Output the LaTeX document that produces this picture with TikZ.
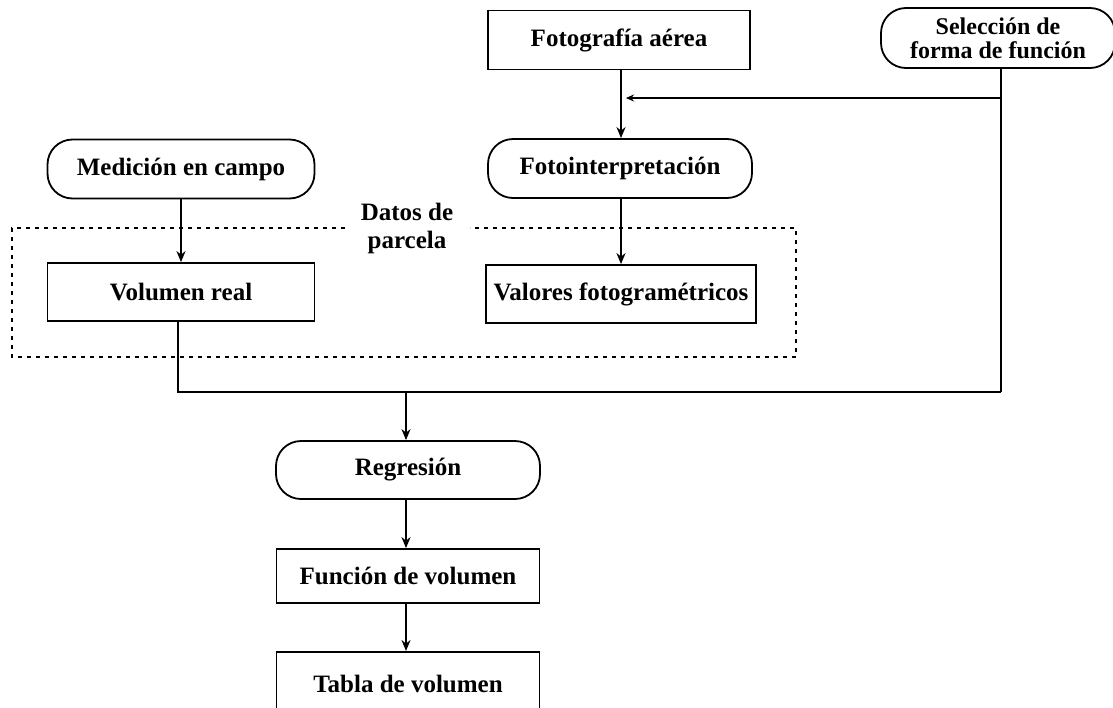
\documentclass[tikz,border=0pt]{standalone}
\usepackage{fontspec}
\setmainfont{Liberation Serif}
\usetikzlibrary{arrows.meta}
\begin{document}
\begin{tikzpicture}[x=1pt,y=-1pt,
  txt/.style={font=\bfseries\fontsize{25}{28}\selectfont},
  boxnode/.style={draw, line width=1.8pt, minimum width=262pt, minimum height=58pt, inner sep=0pt, txt},
  roundnode/.style={draw, line width=1.8pt, rounded corners=25pt, minimum width=265pt, minimum height=58pt, inner sep=0pt, txt},
  flow/.style={line width=2.2pt, -{Stealth[length=11pt,width=9pt]}},
  plain/.style={line width=2.2pt},
  thin/.style={line width=1.3pt},
  dotframe/.style={line width=2.4pt, dash pattern=on 4pt off 5pt}
]
\clip (0,0) rectangle (1113,707);
\fill[white] (0,0) rectangle (1113,707);

\node[boxnode, minimum width=262pt, minimum height=59pt] (foto) at (619,40) {Fotografía aérea};
\node[roundnode, minimum width=234pt, minimum height=60pt, align=center, font=\bfseries\fontsize{24}{24}\selectfont] (sel) at (998,38) {Selección de\\forma de función};
\node[roundnode, minimum width=264pt, minimum height=59pt] (fint) at (620,168.5) {Fotointerpretación};
\node[roundnode, minimum width=267pt, minimum height=59pt] (med) at (181,169) {Medición en campo};
\node[boxnode, minimum width=267pt] (vr) at (181,292) {Volumen real};
\node[boxnode, minimum width=270pt] (vf) at (621,294) {Valores fotogramétricos};
\node[txt, align=center, inner sep=0pt] (datos) at (407,228) {Datos de\\parcela};
\node[roundnode, minimum width=264pt] (reg) at (408,470) {Regresión};
\node[boxnode, minimum width=263pt, minimum height=54pt] (func) at (408,576) {Función de volumen};
\node[boxnode, minimum width=263pt, minimum height=80pt, anchor=north] (tabla) at (408,651) {};
\node[txt] (tablat) at (408,684) {Tabla de volumen};

% dotted frame with gap for the label
\draw[dotframe] (345,228) -- (12,228) -- (12,357) -- (796,357) -- (796,228) -- (470,228);

% column coordinates
\coordinate (fcol) at (621,0);
\coordinate (mcol) at (181,0);
\coordinate (selc) at (1001,68);
\coordinate (fb) at (1001,98);
\coordinate (fbend) at (626,98);
\coordinate (jr) at (1001,392);
\coordinate (jl) at (178,392);
\coordinate (vrb) at (178,321);
\coordinate (jm) at (406,392);

% arrows
\draw[flow] (foto.south -| fcol) -- (fint.north -| fcol);
\draw[flow] (fint.south -| fcol) -- (vf.north -| fcol);
\draw[flow] (med.south -| mcol) -- (vr.north -| mcol);

\draw[plain] (selc) -- (jr);
\draw[thin, -{Stealth[length=8pt,width=7pt]}] (fb) -- (fbend);
\draw[plain] (vrb) -- (jl) -- (jr);
\draw[flow] (jm) -- (reg.north -| jm);
\draw[flow] (reg.south -| jm) -- (func.north -| jm);
\draw[flow] (func.south -| jm) -- (tabla.north -| jm);
\end{tikzpicture}
\end{document}
